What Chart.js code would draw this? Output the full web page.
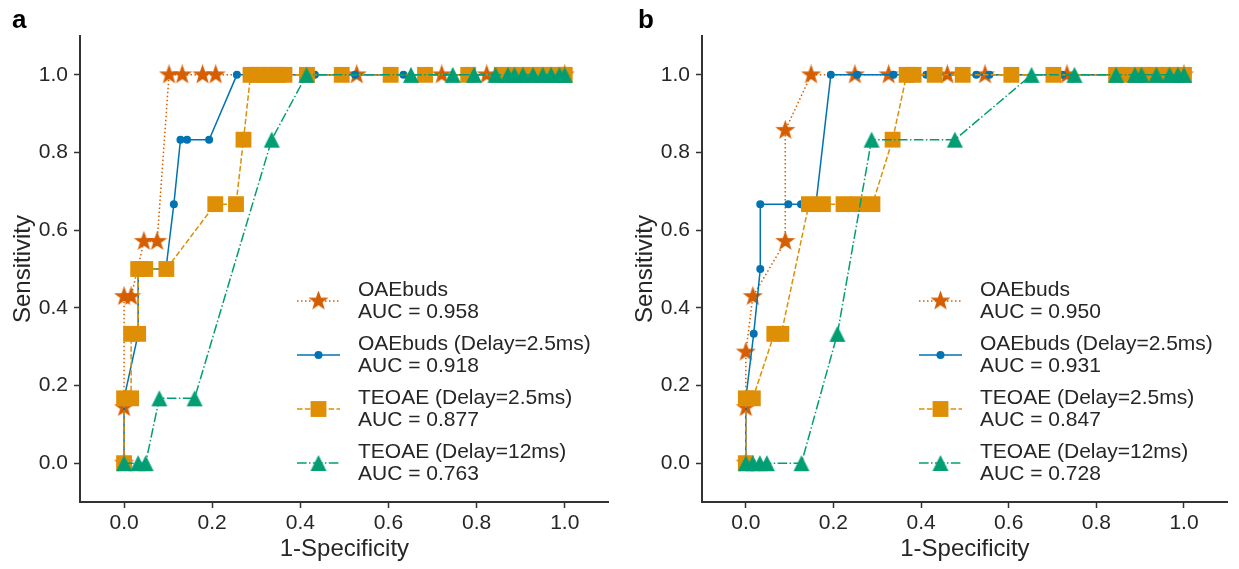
<!DOCTYPE html>
<html>
<head>
<meta charset="utf-8">
<script src="https://cdn.jsdelivr.net/npm/chart.js@4.4.1/dist/chart.umd.min.js"></script>
<style>
  html, body { margin: 0; padding: 0; background: #ffffff; }
  body { width: 1239px; height: 569px; position: relative; overflow: hidden; }
  canvas { position: absolute; top: 0; }
  #ca { left: 0; }
  #cb { left: 622px; }
</style>
</head>
<body>
<canvas id="ca" width="620" height="569"></canvas>
<canvas id="cb" width="617" height="569"></canvas>
<script>
// ---------- tick labels ----------
const xTicks = [0.0, 0.2, 0.4, 0.6, 0.8, 1.0];
const yTicks = [0.0, 0.2, 0.4, 0.6, 0.8, 1.0];
const xTitle = '1-Specificity';
const yTitle = 'Sensitivity';
const panelLetters = ['a', 'b'];

// ---------- series names ----------
const seriesNames = ['OAEbuds', 'OAEbuds (Delay=2.5ms)', 'TEOAE (Delay=2.5ms)', 'TEOAE (Delay=12ms)'];
const aucA = ['0.958', '0.918', '0.877', '0.763'];
const aucB = ['0.950', '0.931', '0.847', '0.728'];

// ---------- panel a ----------
const aStarX = [0, 0, 0, 0.016, 0.045, 0.075, 0.102, 0.132, 0.178, 0.208, 0.528, 0.721, 0.823, 1.0];
const aStarY = [0, 0.143, 0.429, 0.429, 0.571, 0.571, 1, 1, 1, 1, 1, 1, 1, 1];
const aCircX = [0, 0, 0.032, 0.032, 0.095, 0.113, 0.128, 0.143, 0.193, 0.256, 0.433, 0.524, 0.634, 1.0];
const aCircY = [0, 0.167, 0.333, 0.5, 0.5, 0.667, 0.833, 0.833, 0.833, 1, 1, 1, 1, 1];
const aSqX = [0, 0, 0.016, 0.016, 0.032, 0.032, 0.048, 0.096, 0.207, 0.254, 0.271, 0.287, 0.302, 0.318, 0.333, 0.349, 0.364, 0.415, 0.494, 0.605, 0.683, 0.781, 0.857, 0.889, 0.921, 0.952, 0.984, 1.0];
const aSqY = [0, 0.167, 0.167, 0.333, 0.333, 0.5, 0.5, 0.5, 0.667, 0.667, 0.833, 1, 1, 1, 1, 1, 1, 1, 1, 1, 1, 1, 1, 1, 1, 1, 1, 1];
const aTriX = [0, 0.032, 0.049, 0.080, 0.160, 0.335, 0.414, 0.651, 0.746, 0.794, 0.843, 0.871, 0.886, 0.905, 0.928, 0.950, 0.969, 0.988, 1.0];
const aTriY = [0, 0, 0, 0.167, 0.167, 0.833, 1, 1, 1, 1, 1, 1, 1, 1, 1, 1, 1, 1, 1];

// ---------- panel b ----------
const bStarX = [0, 0, 0, 0.016, 0.090, 0.090, 0.149, 0.249, 0.326, 0.460, 0.546, 0.733, 1.0];
const bStarY = [0, 0.143, 0.286, 0.429, 0.571, 0.857, 1, 1, 1, 1, 1, 1, 1];
const bCircX = [0, 0, 0.018, 0.033, 0.033, 0.097, 0.126, 0.160, 0.194, 0.254, 0.337, 0.412, 0.526, 0.556, 0.722, 1.0];
const bCircY = [0, 0.167, 0.333, 0.5, 0.667, 0.667, 0.667, 0.667, 1, 1, 1, 1, 1, 1, 1, 1];
const bSqX = [0, 0, 0.016, 0.065, 0.081, 0.144, 0.176, 0.223, 0.256, 0.289, 0.335, 0.367, 0.383, 0.431, 0.495, 0.606, 0.702, 0.845, 0.873, 0.905, 0.937, 0.968, 1.0];
const bSqY = [0, 0.167, 0.167, 0.333, 0.333, 0.667, 0.667, 0.667, 0.667, 0.667, 0.833, 1, 1, 1, 1, 1, 1, 1, 1, 1, 1, 1, 1];
const bTriX = [0, 0.016, 0.032, 0.048, 0.127, 0.209, 0.287, 0.477, 0.652, 0.750, 0.845, 0.888, 0.903, 0.937, 0.967, 0.986, 1.0];
const bTriY = [0, 0, 0, 0, 0, 0.333, 0.833, 0.833, 1, 1, 1, 1, 1, 1, 1, 1, 1];

// ---------- styles ----------
const FONT = '"Liberation Sans", Arial, Helvetica, sans-serif';
const TXT = '#262626';
const AX = '#333333';
const C_STAR = '#D55E00', C_CIRC = '#0173B2', C_SQ = '#DE8F05', C_TRI = '#029E73';
const DASHES = [[1.5, 2.5], [], [5.5, 2.4], [9.6, 2.4, 1.5, 2.4]];
const COLORS = [C_STAR, C_CIRC, C_SQ, C_TRI];

function starImg(color, R) {
  const s = Math.ceil(2 * R + 4);
  const c = document.createElement('canvas'); c.width = s; c.height = s;
  const g = c.getContext('2d'); g.fillStyle = color; g.strokeStyle = color; g.lineWidth = 1.4; g.lineJoin = 'miter';
  g.beginPath();
  for (let k = 0; k < 10; k++) {
    const r = (k % 2) ? R * 0.40 : R;
    const a = -Math.PI / 2 + k * Math.PI / 5;
    g.lineTo(s / 2 + r * Math.cos(a), s / 2 + r * Math.sin(a));
  }
  g.closePath(); g.fill(); g.stroke(); return c;
}
function triImg(color, size) {
  const s = size + 2;
  const c = document.createElement('canvas'); c.width = s; c.height = s;
  const g = c.getContext('2d'); g.fillStyle = color; g.beginPath();
  g.moveTo(s / 2, 1); g.lineTo(s - 1, s - 1); g.lineTo(1, s - 1); g.closePath(); g.fill();
  return c;
}
const STAR = starImg(C_STAR, 8.5);
const TRI = triImg(C_TRI, 16);
const MARK = [
  { style: STAR, radius: 8 },
  { style: 'circle', radius: 4 },
  { style: 'rect', radius: 11.2 },
  { style: TRI, radius: 8 }
];

function pts(xs, ys) { return xs.map((x, i) => ({ x: x, y: ys[i] })); }

function makeDatasets(series) {
  return series.map((s, i) => ({
    label: seriesNames[i],
    data: pts(s[0], s[1]),
    borderColor: COLORS[i],
    backgroundColor: COLORS[i],
    borderWidth: 1.5,
    borderDash: DASHES[i],
    pointStyle: MARK[i].style,
    pointRadius: MARK[i].radius,
    pointBorderWidth: 0,
    pointBackgroundColor: COLORS[i],
    pointHoverRadius: MARK[i].radius,
    tension: 0,
    fill: false,
    order: 4 - i,
    clip: false
  }));
}

function drawMarker(ctx, i, x, y) {
  const m = MARK[i];
  ctx.fillStyle = COLORS[i];
  if (m.style === 'circle') {
    ctx.beginPath(); ctx.arc(x, y, m.radius, 0, Math.PI * 2); ctx.fill();
  } else if (m.style === 'rect') {
    const h = Math.SQRT1_2 * m.radius;
    ctx.fillRect(x - h, y - h, 2 * h, 2 * h);
  } else {
    ctx.drawImage(m.style, x - m.style.width / 2, y - m.style.height / 2);
  }
}

const rocLegend = {
  id: 'rocLegend',
  afterDraw(chart, args, opts) {
    const ctx = chart.ctx;
    const L = chart.chartArea.left;
    ctx.save();
    for (let i = 0; i < seriesNames.length; i++) {
      const ym = 301 + i * 54;
      ctx.strokeStyle = COLORS[i]; ctx.lineWidth = 1.5; ctx.setLineDash(DASHES[i]);
      ctx.beginPath(); ctx.moveTo(L + 217, ym); ctx.lineTo(L + 260, ym); ctx.stroke();
      ctx.setLineDash([]);
      drawMarker(ctx, i, L + 238.5, ym);
      ctx.fillStyle = TXT; ctx.font = '21px ' + FONT;
      ctx.textAlign = 'left'; ctx.textBaseline = 'middle';
      ctx.fillText(seriesNames[i], L + 278, ym - 11);
      ctx.fillText('AUC = ' + opts.auc[i], L + 278, ym + 11);
    }
    ctx.fillStyle = '#000'; ctx.font = 'bold 26px ' + FONT;
    ctx.textBaseline = 'alphabetic';
    ctx.fillText(opts.letter, opts.letterX, 28);
    ctx.restore();
  }
};

function makeChart(id, series, auc, letter, letterX, padRight) {
  return new Chart(document.getElementById(id), {
    type: 'line',
    data: { datasets: makeDatasets(series) },
    plugins: [rocLegend],
    options: {
      responsive: false, animation: false, devicePixelRatio: 1,
      layout: { padding: { left: 0, top: 36, right: padRight, bottom: 0 } },
      plugins: {
        legend: { display: false }, tooltip: { enabled: false },
        rocLegend: { auc: auc, letter: letter, letterX: letterX }
      },
      scales: {
        x: {
          type: 'linear', min: -0.1, max: 1.1,
          afterBuildTicks: s => { s.ticks = xTicks.map(v => ({ value: v })); },
          afterFit: s => { s.height = 67; },
          ticks: { callback: v => Number(v).toFixed(1), font: { size: 21, family: FONT }, color: TXT, padding: 3, maxRotation: 0, autoSkip: false },
          grid: { drawOnChartArea: false, drawTicks: true, tickLength: 6, tickWidth: 1.5, tickColor: AX },
          border: { display: true, width: 2, color: AX },
          title: { display: true, text: xTitle, font: { size: 24, family: FONT }, color: TXT, padding: { top: 0, bottom: 5 } }
        },
        y: {
          type: 'linear', min: -0.1, max: 1.1,
          afterBuildTicks: s => { s.ticks = yTicks.map(v => ({ value: v })); },
          afterFit: s => { s.width = 80; },
          ticks: { callback: v => Number(v).toFixed(1), font: { size: 21, family: FONT }, color: TXT, padding: 6, autoSkip: false },
          grid: { drawOnChartArea: false, drawTicks: true, tickLength: 6, tickWidth: 1.5, tickColor: AX },
          border: { display: true, width: 2, color: AX },
          title: { display: true, text: yTitle, font: { size: 24, family: FONT }, color: TXT, padding: { top: 9, bottom: 0 } }
        }
      }
    }
  });
}

makeChart('ca', [[aStarX, aStarY], [aCircX, aCircY], [aSqX, aSqY], [aTriX, aTriY]], aucA, panelLetters[0], 12, 3);
makeChart('cb', [[bStarX, bStarY], [bCircX, bCircY], [bSqX, bSqY], [bTriX, bTriY]], aucB, panelLetters[1], 16, 0);
</script>
</body>
</html>
